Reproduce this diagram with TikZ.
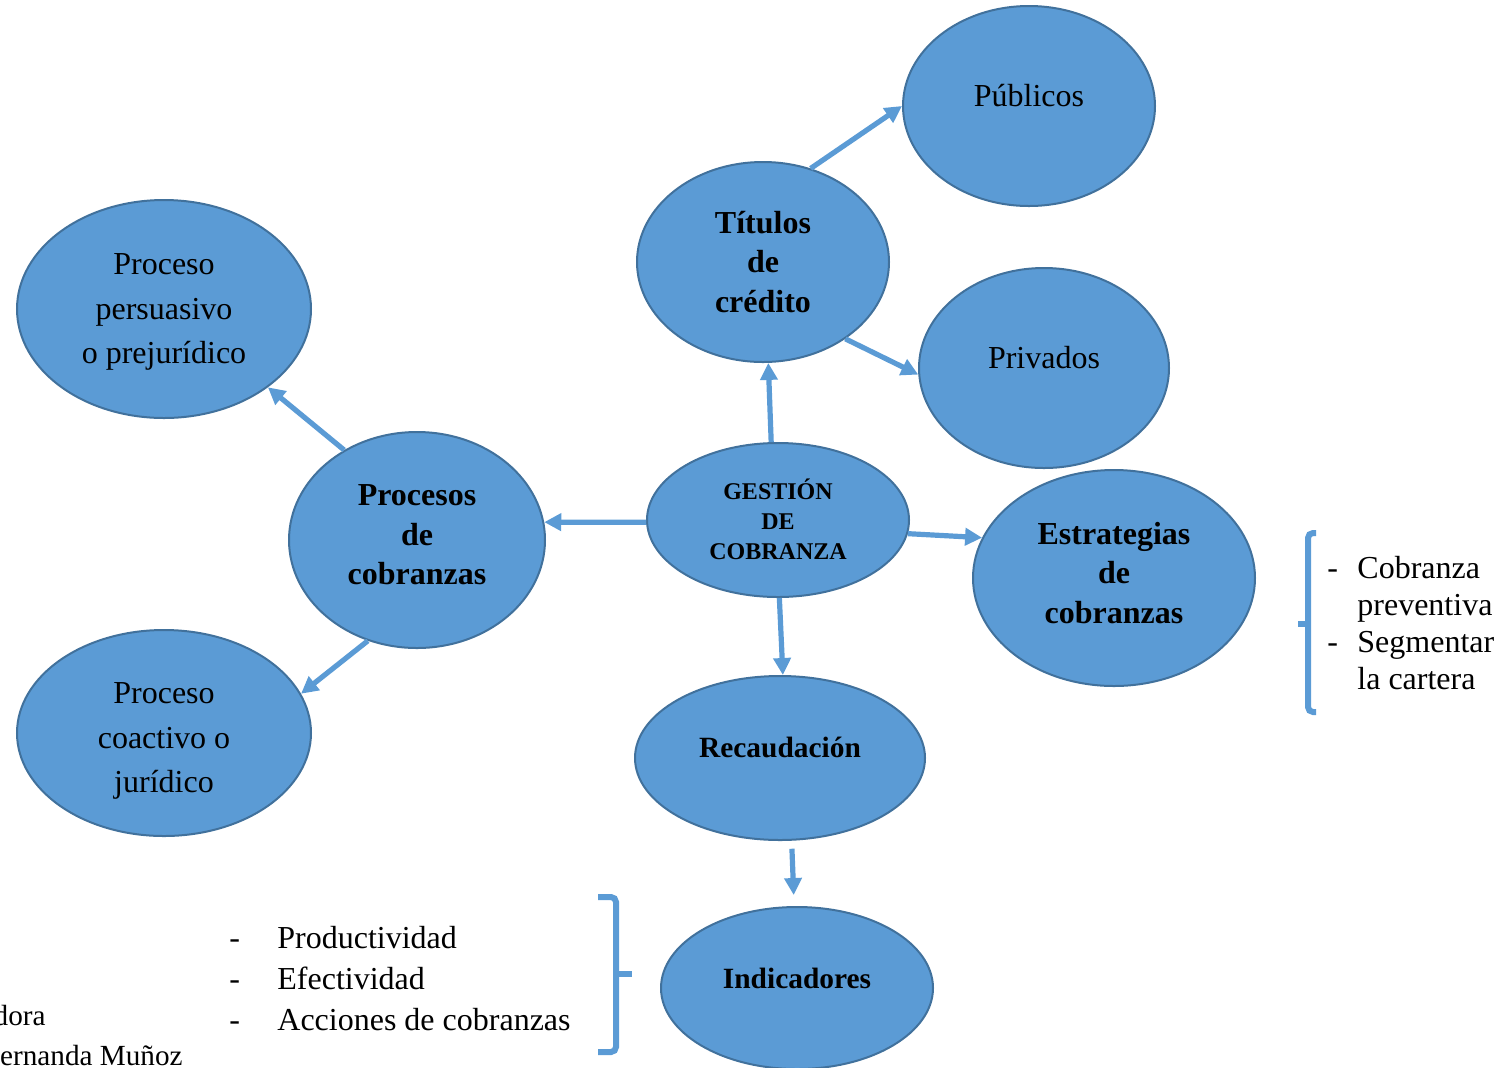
\documentclass[tikz,border=0pt]{standalone}
\usepackage{fontspec}
\setmainfont{Liberation Serif}
\usetikzlibrary{shapes.geometric,arrows.meta}
\definecolor{fillb}{HTML}{5B9BD5}
\definecolor{edgeb}{HTML}{41719C}
\begin{document}
\begin{tikzpicture}[x=0.5pt,y=-0.5pt,
  bub/.style={ellipse,draw=edgeb,fill=fillb,line width=1pt,inner sep=0pt},
  arr/.style={draw=fillb,line width=2.6pt,-{Triangle[length=8.5pt,width=8.5pt]}},
  bt/.style={font=\fontsize{16}{19.75}\selectfont\bfseries,align=center,inner sep=0pt},
  bt1/.style={font=\fontsize{14.7}{18}\selectfont\bfseries,inner sep=0pt,text height=0.7em,text depth=0.2em},
  nt/.style={font=\fontsize{16}{19.75}\selectfont,inner sep=0pt,text height=0.7em,text depth=0.2em},
  nt3/.style={font=\fontsize{16}{22.4}\selectfont,align=center,inner sep=0pt},
  gt/.style={font=\fontsize{12}{15}\selectfont\bfseries,align=center,inner sep=0pt},
  lt/.style={font=\fontsize{16}{19}\selectfont,inner sep=0pt,anchor=base west},
  st/.style={font=\fontsize{14.6}{18}\selectfont,inner sep=0pt,anchor=base east},
  brc/.style={draw=fillb,line width=3pt,rounded corners=2.5pt}
]
\clip (0,0) rectangle (1510,1067);

% ellipses
\node[bub,minimum width=126pt,minimum height=100pt] (pub) at (1029,106) {};
\node[bub,minimum width=126pt,minimum height=100pt] (tit) at (763,262) {};
\node[bub,minimum width=125pt,minimum height=100pt] (priv) at (1044,368) {};
\node[bub,minimum width=147pt,minimum height=109pt] (pers) at (164,309) {};
\node[bub,minimum width=128pt,minimum height=108pt] (proc) at (417,540) {};
\node[bub,minimum width=131pt,minimum height=77pt] (gest) at (778,520) {};
\node[bub,minimum width=141pt,minimum height=108pt] (estr) at (1114,578) {};
\node[bub,minimum width=147pt,minimum height=103pt] (coac) at (164,733) {};
\node[bub,minimum width=145pt,minimum height=82pt] (rec) at (780,758) {};
\node[bub,minimum width=136pt,minimum height=81pt] (ind) at (797,988) {};

% texts
\node[nt] (pubt) at (1029,101) {Públicos};
\node[bt] (titt) at (763,262) {Títulos\\de\\crédito};
\node[nt] (privt) at (1044,363) {Privados};
\node[nt3] (perst) at (164,312) {Proceso\\persuasivo\\o prejurídico};
\node[bt] (proct) at (417,535) {Procesos\\de\\cobranzas};
\node[gt] (gestt) at (778,519) {GESTIÓN\\DE\\COBRANZA};
\node[bt] (estrt) at (1114,573) {Estrategias\\de\\cobranzas};
\node[nt3] (coact) at (164,741) {Proceso\\coactivo o\\jurídico};
\node[bt1] (rect) at (780,752) {Recaudación};
\node[bt1] (indt) at (797,983) {Indicadores};

% arrows
\draw[arr] (gest.95) -- (tit.-87);
\draw[arr] (gest.181) -- (proc.8);
\draw[arr] (gest.-6) -- (estr.163);
\draw[arr] (gest.-89) -- (rec.88);
\draw[arr] (tit.63) -- (pub.180);
\draw[arr] (tit.-43) -- (priv.183);
\draw[arr] (proc.129) -- (pers.-37);
\draw[arr] (proc.244) -- (coac.16);
\draw[arr,shorten <=4pt,shorten >=5.5pt] (rec.-82) -- (ind.92);

% right brace and list
\draw[brc] (1316,533) -- (1308,533) -- (1308,712) -- (1316,712);
\draw[brc,rounded corners=0pt] (1308,624) -- (1298,624);
\node[lt] (d1) at (1327,578) {-};
\node[lt] (r1) at (1357,578) {Cobranza};
\node[lt] (r2) at (1357,615) {preventiva};
\node[lt] (d2) at (1327,652) {-};
\node[lt] (r3) at (1357,652) {Segmentar};
\node[lt] (r4) at (1357,689) {la cartera};

% bottom brace and list
\draw[brc] (598,897) -- (616,897) -- (616,1052) -- (598,1052);
\draw[brc,rounded corners=0pt] (616,974) -- (632,974);
\node[lt] (d3) at (229,948) {-};
\node[lt] (b1) at (277,948) {Productividad};
\node[lt] (d4) at (229,989) {-};
\node[lt] (b2) at (277,989) {Efectividad};
\node[lt] (d5) at (229,1030) {-};
\node[lt] (b3) at (277,1030) {Acciones de cobranzas};

% cut-off source note
\node[st] (s1) at (46,1025) {dora};
\node[st] (s2) at (183,1065) {ernanda Muñoz};
\end{tikzpicture}
\end{document}
